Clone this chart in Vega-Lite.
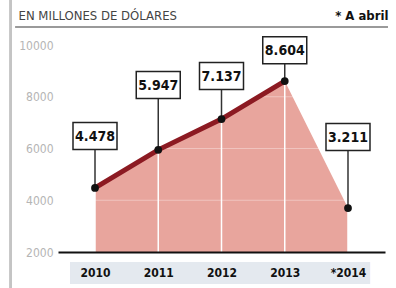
{
  "$schema": "https://vega.github.io/schema/vega-lite/v6.json",
  "width": 327,
  "height": 207,
  "autosize": {"type": "none"},
  "padding": {"left": 58, "top": 45, "right": 11, "bottom": 36},
  "background": "white",
  "config": {
    "view": {"stroke": null},
    "font": "DejaVu Sans Condensed, sans-serif"
  },
  "datasets": {
    "sales": [
      {"year": 2010, "value": 4478, "label": "4.478", "labelY": 6480},
      {"year": 2011, "value": 5947, "label": "5.947", "labelY": 8450},
      {"year": 2012, "value": 7137, "label": "7.137", "labelY": 8800},
      {"year": 2013, "value": 8604, "label": "8.604", "labelY": 9800},
      {"year": 2014, "value": 3700, "label": "3.211", "labelY": 6440}
    ],
    "grid": [{"g": 4000}, {"g": 6000}, {"g": 8000}]
  },
  "data": {"name": "sales"},
  "layer": [
    {
      "mark": {"type": "rect", "color": "#e4e9ef", "width": 300, "height": 22},
      "encoding": {
        "x": {"datum": 2011.977, "type": "quantitative"},
        "y": {"datum": 1189, "type": "quantitative"}
      }
    },
    {
      "mark": {"type": "area", "color": "#e8a59d", "opacity": 1, "clip": true},
      "encoding": {
        "x": {
          "field": "year", "type": "quantitative",
          "scale": {"domain": [2009.494, 2014.506], "nice": false, "zero": false},
          "axis": {
            "zindex": 1,
            "values": [2010, 2011, 2012, 2013, 2014],
            "labelExpr": "datum.value == 2014 ? '*2014' : '' + datum.value",
            "title": "* A abril",
            "titleX": 330, "titleY": -237, "titleAlign": "right", "titleBaseline": "middle",
            "titleFontSize": 13, "titleFontWeight": "bold", "titleColor": "#111",
            "labelFontSize": 12, "labelFontWeight": "bold", "labelColor": "#111",
            "labelPadding": 15, "labelAngle": 0, "labelFlush": false,
            "ticks": false, "grid": false,
            "domainColor": "#111", "domainWidth": 2
          }
        },
        "y": {
          "field": "value", "type": "quantitative",
          "scale": {"domain": [2000, 10000], "nice": false, "zero": false},
          "axis": {
            "values": [2000, 4000, 6000, 8000, 10000],
            "format": "d",
            "title": "EN MILLONES DE DÓLARES",
            "titleAngle": 0, "titleAlign": "left", "titleBaseline": "middle",
            "titleX": -40, "titleY": -30, "titleFontSize": 13, "titleFontWeight": "normal", "titleColor": "#444",
            "labelFontSize": 12, "labelColor": "#b5b5b5", "labelPadding": 5,
            "ticks": false, "domain": false,
            "gridColor": "#dddddd", "gridWidth": 1.2
          }
        }
      }
    },
    {
      "mark": {"type": "bar", "color": "white", "size": 1.5, "clip": true},
      "encoding": {
        "x": {"field": "year", "type": "quantitative"},
        "y": {"field": "value", "type": "quantitative"}
      }
    },
    {
      "data": {"name": "grid"},
      "mark": {"type": "rule", "color": "white", "opacity": 0.35, "strokeWidth": 1.2},
      "encoding": {
        "y": {"field": "g", "type": "quantitative"}
      }
    },
    {
      "transform": [{"filter": "datum.year != 2014"}],
      "mark": {"type": "line", "color": "#8c1a22", "strokeWidth": 5},
      "encoding": {
        "x": {"field": "year", "type": "quantitative"},
        "y": {"field": "value", "type": "quantitative"}
      }
    },
    {
      "mark": {"type": "rule", "color": "#333", "strokeWidth": 1.5},
      "encoding": {
        "x": {"field": "year", "type": "quantitative"},
        "y": {"field": "value", "type": "quantitative"},
        "y2": {"field": "labelY"}
      }
    },
    {
      "mark": {"type": "point", "filled": true, "color": "#111", "size": 60, "opacity": 1},
      "encoding": {
        "x": {"field": "year", "type": "quantitative"},
        "y": {"field": "value", "type": "quantitative"}
      }
    },
    {
      "mark": {"type": "point", "shape": "M-1,-0.614L1,-0.614L1,0.614L-1,0.614Z", "size": 1936, "filled": true, "fill": "white", "stroke": "#222", "strokeWidth": 1.5, "opacity": 1},
      "encoding": {
        "x": {"field": "year", "type": "quantitative"},
        "y": {"field": "labelY", "type": "quantitative"}
      }
    },
    {
      "mark": {"type": "text", "fontSize": 14, "fontWeight": "bold", "color": "#111", "align": "center", "baseline": "middle", "dy": 1},
      "encoding": {
        "x": {"field": "year", "type": "quantitative"},
        "y": {"field": "labelY", "type": "quantitative"},
        "text": {"field": "label"}
      }
    },
    {
      "mark": {"type": "rect", "color": "#9a9a9a", "width": 372, "height": 2},
      "encoding": {
        "x": {"datum": 2011.686, "type": "quantitative"},
        "y": {"datum": 10700, "type": "quantitative"}
      }
    },
    {
      "mark": {"type": "rect", "color": "#c4c4c4", "width": 2, "height": 290},
      "encoding": {
        "x": {"datum": 2008.666, "type": "quantitative"},
        "y": {"datum": 6170, "type": "quantitative"}
      }
    }
  ]
}
